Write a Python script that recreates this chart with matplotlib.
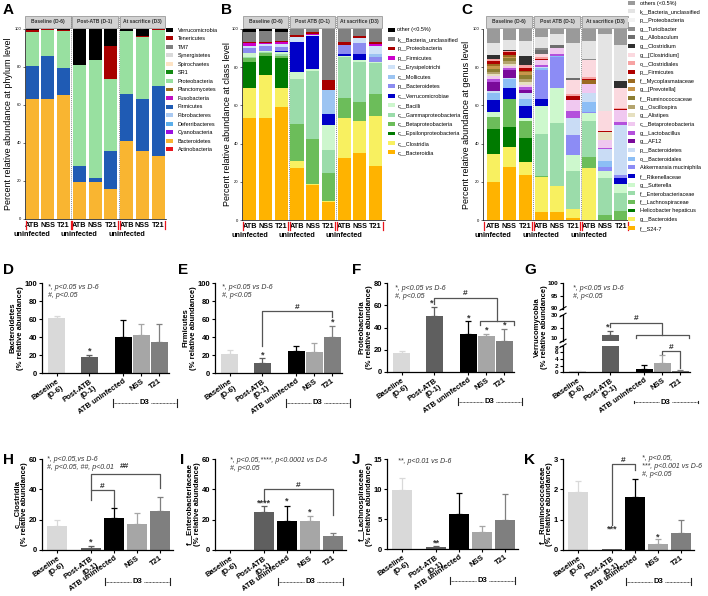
import numpy as np
import matplotlib.pyplot as plt
import matplotlib.transforms as mtransforms
from matplotlib.patches import Patch, Rectangle
from matplotlib.lines import Line2D

plt.rcParams['font.family'] = ['Liberation Sans', 'DejaVu Sans']

# ---------------- A: phylum level (legend order, top of stack first) ----------------
phylum_names = ["Verrucomicrobia", "Tenericutes", "TM7", "Synergistetes", "Spirochaetes", "SR1",
                "Proteobacteria", "Planctomycetes", "Fusobacteria", "Firmicutes", "Fibrobacteres",
                "Deferribacteres", "Cyanobacteria", "Bacteroidetes", "Actinobacteria"]
phylum_base_atb = [0.5, 0.8, 0, 0, 0, 0, 18.1, 0, 0, 17.3, 0, 0, 0, 63.0, 0.2]
phylum_base_nss = [0.2, 0.5, 0, 0, 0, 0, 13.3, 0, 0, 22.6, 0, 0, 0, 63.4, 0]
phylum_base_t21 = [0.7, 0.5, 0, 0, 0, 0, 19.4, 0, 0, 14.0, 0, 0, 0, 65.4, 0]
phylum_post_atb = [19.2, 0, 0, 0, 0, 0, 52.7, 0, 0, 8.8, 0, 0, 0, 19.3, 0]
phylum_post_nss = [16.2, 0, 0, 0, 0, 0, 62.4, 0, 0, 2.1, 0, 0, 0, 19.3, 0]
phylum_post_t21 = [8.8, 17.6, 0, 0, 0, 0, 37.6, 0, 0, 20.4, 0, 0, 0, 15.6, 0]
phylum_sac_atb = [1.3, 0, 0, 0, 0, 0, 33.0, 0, 0, 24.4, 0, 0, 0, 41.3, 0]
phylum_sac_nss = [3.8, 0.4, 0, 0, 0, 0, 32.7, 0, 0, 27.1, 0, 0, 0, 36.0, 0]
phylum_sac_t21 = [0, 0.7, 0, 0, 0, 0, 29.2, 0, 0, 37.2, 0, 0, 0, 32.9, 0]

# ---------------- B: class level ----------------
class_names = ["other (<0.5%)", "k__Bacteria_unclassified", "p__Proteobacteria", "p__Firmicutes",
               "c__Erysipelotrichi", "c__Mollicutes", "p__Bacteroidetes", "c__Verrucomicrobiae",
               "c__Bacilli", "c__Gammaproteobacteria", "c__Betaproteobacteria",
               "c__Epsilonproteobacteria", "c__Clostridia", "c__Bacteroidia"]
class_base_atb = [1.4, 5.3, 0.3, 1.7, 1.0, 0, 3.0, 0, 1.7, 0.8, 1.8, 13.6, 15.7, 53.6]
class_base_nss = [1.0, 5.8, 0.3, 1.0, 0.7, 0, 2.8, 0, 0.7, 0.5, 1.2, 10.1, 22.7, 53.2]
class_base_t21 = [1.7, 4.7, 0.3, 1.4, 1.2, 0, 2.1, 0.5, 1.4, 0.6, 1.5, 15.3, 10.0, 59.3]
class_post_atb = [0, 3.3, 0.7, 0.3, 2.4, 0.3, 0, 15.7, 3.5, 23.7, 19.2, 0, 3.5, 27.4]
class_post_nss = [0, 1.7, 1.0, 0.3, 0.9, 0, 0, 16.9, 1.4, 35.3, 23.7, 0, 0.3, 18.5]
class_post_t21 = [0, 26.7, 5.2, 0, 0, 12.7, 0, 5.6, 13.1, 12.2, 14.8, 0, 0.3, 9.4]
class_sac_atb = [0, 7.0, 1.4, 0, 0, 0, 4.5, 1.0, 0.5, 21.5, 10.5, 0, 21.3, 32.3]
class_sac_nss = [0, 3.5, 1.0, 0, 3.0, 0, 5.8, 3.0, 1.2, 20.6, 10.1, 0, 16.9, 34.9]
class_sac_t21 = [0, 6.6, 1.4, 0.7, 4.5, 1.3, 2.6, 0, 0.9, 16.2, 11.2, 0, 26.2, 28.4]

# ---------------- C: genus level ----------------
genus_names = ["others (<0.5%)", "k__Bacteria_unclassified", "p__Proteobacteria", "g__Turicibacter",
               "g__Allobaculum", "g__Clostridium", "g__[Clostridium]", "o__Clostridiales",
               "p__Firmicutes", "f__Mycoplasmataceae", "g__[Prevotella]", "f__Ruminococcaceae",
               "g__Oscillospira", "g__Alistipes", "c__Betaproteobacteria", "g__Lactobacillus",
               "g__AF12", "p__Bacteroidetes", "o__Bacteroidales", "Akkermansia muciniphila",
               "f__Rikenellaceae", "g__Sutterella", "f__Enterobacteriaceae", "f__Lachnospiraceae",
               "Helicobacter hepaticus", "g__Bacteroides", "f__S24-7"]
genus_base_atb = [7.2, 6.6, 0, 0, 0, 1.7, 0, 1.2, 1.7, 0.9, 1.7, 1.4, 1.2, 1.2, 1.4, 1.7, 4.3,
                  1.4, 3.8, 0, 6.2, 2.3, 0, 6.5, 13.2, 14.3, 20.1]
genus_base_nss = [5.8, 5.2, 0, 0, 0, 0.5, 0, 0.9, 1.2, 0.9, 0.9, 1.7, 1.4, 1.2, 0.9, 0.9, 4.0,
                  0.7, 4.9, 0, 5.6, 0, 0, 14.5, 10.5, 10.5, 27.9]
genus_base_t21 = [6.6, 7.9, 0, 0, 0, 4.7, 0, 1.4, 1.7, 0.5, 1.4, 2.1, 1.7, 1.7, 0.9, 1.7, 1.7,
                  3.0, 3.5, 0, 6.6, 1.4, 0, 8.7, 12.9, 6.6, 23.6]
genus_post_atb = [4.0, 6.0, 0, 1.0, 2.0, 0, 1.5, 1.0, 0.5, 0, 0, 0, 0, 0, 3.0, 0.7, 0,
                  0.5, 1.2, 15.2, 3.5, 15.0, 21.6, 0.5, 0, 18.3, 4.4]
genus_post_nss = [2.8, 5.6, 0, 0, 1.4, 0, 0, 0, 0, 0, 0, 0, 0, 0, 3.3, 0.9, 0,
                  0, 0.5, 16.6, 0, 18.3, 32.6, 0, 0, 13.6, 4.4]
genus_post_t21 = [8.0, 18.1, 0, 0, 1.4, 0, 7.0, 1.0, 2.1, 0, 0, 0, 0, 0, 5.8, 3.8, 0,
                  9.1, 0, 10.1, 0, 8.7, 19.5, 0.3, 0, 4.5, 1.2]
genus_sac_atb = [6.6, 9.6, 0, 0.5, 0, 0, 9.1, 0.9, 0.5, 2.3, 0, 0, 0, 0, 4.7, 0, 0,
                 4.4, 5.2, 0.9, 0, 4.0, 18.7, 6.1, 0, 27.0, 0]
genus_sac_nss = [2.8, 40.5, 0, 0, 0, 0, 10.5, 0, 0.7, 0, 0, 0, 0, 4.0, 4.4, 0.5, 0,
                 6.1, 3.0, 2.3, 0, 3.8, 19.2, 2.6, 0, 0, 0]
genus_sac_t21 = [8.2, 19.2, 0, 0, 0, 3.5, 10.5, 0.3, 0.9, 0, 0, 0, 0, 0, 6.3, 1.4, 0,
                 26.2, 0, 1.4, 3.5, 4.7, 9.2, 4.7, 0, 0, 0]

# ---------------- D-K: mean and SEM per group ----------------
groups = ["Baseline\n(D-6)", "Post-ATB\n(D-1)", "ATB uninfected", "NSS", "T21"]
bacteroidetes_mean = [61, 17.6, 40.4, 42.3, 35]
bacteroidetes_sem = [2.5, 1.9, 18.4, 12.7, 19.4]
firmicutes_mean = [21, 11, 24, 23, 40.4]
firmicutes_sem = [4.5, 5.5, 6.5, 10, 12.2]
proteobacteria_mean = [17, 50.6, 34.4, 32.6, 28.1]
proteobacteria_sem = [1.6, 7.8, 11.1, 1.5, 10.8]
verruco_mean = [0.3, 14.5, 1.1, 2.7, 0.35]
verruco_sem = [0.2, 3.0, 1.1, 2.5, 0.25]
clostridia_mean = [15.9, 1.5, 21.4, 17.2, 26]
clostridia_sem = [4.0, 1.1, 6.2, 7.5, 8.9]
entero_mean = [0, 24.9, 18.8, 18.8, 9.3]
entero_sem = [0, 3.8, 10.3, 3.3, 1.7]
lachno_mean = [9.9, 0.33, 5.9, 2.8, 4.8]
lachno_sem = [1.9, 0.22, 3.5, 1.1, 4.4]
rumino_mean = [1.9, 0.02, 1.74, 0.2, 0.55]
rumino_sem = [0.39, 0, 0.61, 0.15, 0.44]

# colours
phylum_colors = ["#000000", "#a80000", "#808080", "#d9d9d9", "#fde3c4", "#138a13",
                 "#98e0a0", "#9c6a1c", "#c010c0", "#1f5bb4", "#a9c9f2",
                 "#5aaeea", "#9a10e0", "#f9b531", "#e8141c"]
class_colors = ["#000000", "#808080", "#a80000", "#cc00cc", "#cfe2f8", "#9cc4f2", "#8c8cf0",
                "#0000c8", "#cdf6cd", "#9bdcaa", "#6cbd5a", "#007a00", "#f8f060", "#ffb300"]
genus_colors = ["#9a9a9a", "#e4e4e4", "#f3f3f3", "#8e8e8e", "#6e6e6e", "#303030", "#fbd9df",
                "#f7a3a3", "#b00000", "#9b6a21", "#c8964b", "#8c7d32", "#b4a46e", "#e6e0c0",
                "#f0c8f0", "#b450dc", "#7a0a9a", "#c9dcf5", "#8cbef5", "#8c8cf5", "#0000c8",
                "#cdf8cd", "#9bdcaa", "#6cbd5a", "#007a00", "#f8f060", "#ffb300"]
bar_colors = ["#d9d9d9", "#5f5f5f", "#000000", "#a6a6a6", "#7f7f7f"]

W, H = 708, 596
fig = plt.figure(figsize=(W / 100, H / 100), dpi=100)


def add_ax(l, t, r, b):
    # axes from a pixel box (left, top, right, bottom)
    return fig.add_axes([l / W, 1 - b / H, (r - l) / W, (b - t) / H])


def ftext(x, y, s, **kw):
    fig.text(x / W, 1 - y / H, s, **kw)


def stacked_panel(box, names, colors, samples, xlim, headers, ylabel_x, ylabel):
    ax = add_ax(*box)
    vals = np.array(samples).T
    xs = np.arange(vals.shape[1])
    bottom = np.zeros(len(xs))
    for i in range(len(names) - 1, -1, -1):
        ax.bar(xs, vals[i], 0.83, bottom=bottom, color=colors[i], linewidth=0)
        bottom += vals[i]
    ax.set_xlim(*xlim)
    ax.set_ylim(0, 100)
    ax.set_yticks(range(0, 101, 20))
    ax.tick_params(axis='y', labelsize=3, length=1.5, width=0.4, pad=1)
    for sp in ('top', 'right'):
        ax.spines[sp].set_visible(False)
    ax.spines['left'].set_linewidth(0.5)
    ax.spines['bottom'].set_linewidth(0.5)
    tr = mtransforms.blended_transform_factory(ax.transData, ax.transAxes)
    for xb in (2.5, 5.5):
        ax.plot([xb, xb], [0, 1.068], transform=tr, color='#8c8c8c', lw=0.7,
                ls=(0, (1, 1)), clip_on=False)
    for g, head in enumerate(headers):
        ax.add_patch(Rectangle((g * 3 - 0.44, 1.006), 2.88, 0.062, transform=tr,
                               facecolor='#d2d2d2', edgecolor='#9a9a9a', lw=0.6, clip_on=False))
        ax.text(g * 3 + 1, 1.037, head, transform=tr, ha='center', va='center',
                fontsize=3.6, weight='bold', color='#333333')
    ax.set_xticks(xs)
    ax.set_xticklabels(["ATB", "NSS", "T21"] * 3, fontsize=5.2, weight='bold')
    ax.tick_params(axis='x', length=0, pad=2)
    for g in range(3):
        ax.text(g * 3, -0.065, "uninfected", transform=tr, ha='center', va='top',
                fontsize=5.2, weight='bold')
    for xb in (xlim[0] + 0.05, 2.44, 2.56, 5.44, 5.56, 8.45):
        ax.plot([xb, xb], [-0.012, -0.05], transform=tr, color='#e8141c', lw=0.9,
                clip_on=False)
    ftext(ylabel_x, (box[1] + box[3]) / 2, ylabel, rotation=90, ha='center',
          va='center', fontsize=6.5)
    return ax


def legend_at(names, colors, x, y, spacing, pad):
    handles = [Patch(facecolor=c, edgecolor='none') for c in colors]
    fig.legend(handles, names, loc='upper left', bbox_to_anchor=(x / W, 1 - y / H),
               frameon=False, fontsize=4, handlelength=1.2, handleheight=0.7,
               handletextpad=pad, labelspacing=spacing, borderpad=0, borderaxespad=0)


heads_a = ["Baseline (D-6)", "Post-ATB (D-1)", "At sacrifice (D3)"]
heads_bc = ["Baseline (D-6)", "Post ATB (D-1)", "At sacrifice (D3)"]

stacked_panel((25, 29, 166, 219), phylum_names, phylum_colors,
              [phylum_base_atb, phylum_base_nss, phylum_base_t21, phylum_post_atb, phylum_post_nss,
               phylum_post_t21, phylum_sac_atb, phylum_sac_nss, phylum_sac_t21],
              (-0.45, 8.5), heads_a, 9, "Percent relative abundance at phylum level")
legend_at(phylum_names, phylum_colors, 166, 27.5, 0.64, 0.9)

stacked_panel((242, 29, 385, 220), class_names, class_colors,
              [class_base_atb, class_base_nss, class_base_t21, class_post_atb, class_post_nss,
               class_post_t21, class_sac_atb, class_sac_nss, class_sac_t21],
              (-0.5, 8.6), heads_bc, 228, "Percent relative abundance at class level")
legend_at(class_names, class_colors, 388, 27.5, 0.8, 0.5)

stacked_panel((483, 29, 628, 220), genus_names, genus_colors,
              [genus_base_atb, genus_base_nss, genus_base_t21, genus_post_atb, genus_post_nss,
               genus_post_t21, genus_sac_atb, genus_sac_nss, genus_sac_t21],
              (-0.65, 8.45), heads_bc, 467, "Percent relative abundance at genus level")
legend_at(genus_names, genus_colors, 628, 0.5, 0.66, 0.9)

# ---------------- bar panels ----------------
pos2 = [0, 1, 2.05, 2.6, 3.15]
pos3 = [0, 1, 1.68, 2.35, 3.03]


def style_bar_ax(ax, xlim, pos, ylim, yticks, bottom_axis=True, tsize=5.5):
    ax.set_xlim(*xlim)
    ax.set_ylim(*ylim)
    ax.set_yticks(yticks)
    for sp in ('top', 'right'):
        ax.spines[sp].set_visible(False)
    ax.spines['left'].set_linewidth(0.9)
    ax.spines['bottom'].set_linewidth(0.9)
    ax.tick_params(axis='both', labelsize=tsize, length=2.5, width=0.8, pad=1)
    for lab in ax.get_yticklabels():
        lab.set_fontweight('bold')
    if bottom_axis:
        ax.set_xticks(pos)
        ax.set_xticklabels(groups, rotation=35, ha='right', rotation_mode='anchor',
                           fontsize=5.5, weight='bold')
    else:
        ax.spines['bottom'].set_visible(False)
        ax.set_xticks([])


def draw_bars(ax, pos, width, means, sems):
    for p, m, s, c in zip(pos, means, sems, bar_colors):
        ax.bar(p, m, width, color=c, zorder=2)
        if s > 0:
            ax.errorbar(p, m, yerr=[[0], [s]], fmt='none', ecolor=c, elinewidth=0.9,
                        capsize=2.2, capthick=0.9, zorder=1)


def d3_bracket(ax, x1, x2, yax):
    tr = mtransforms.blended_transform_factory(ax.transData, ax.transAxes)
    xm = (x1 + x2) / 2
    kw = dict(transform=tr, clip_on=False, color='#222222')
    ax.plot([x1, xm - 0.2], [yax, yax], lw=0.6, ls=(0, (1, 0.7)), **kw)
    ax.plot([xm + 0.2, x2], [yax, yax], lw=0.6, ls=(0, (1, 0.7)), **kw)
    ax.plot([x1, x1], [yax - 0.04, yax + 0.04], lw=0.8, **kw)
    ax.plot([x2, x2], [yax - 0.04, yax + 0.04], lw=0.8, **kw)
    ax.text(xm, yax, "D3", transform=tr, ha='center', va='center', fontsize=5.5,
            weight='bold')


def bar_panel(box, pos, width, means, sems, ylim, yticks, ylabel, xlim, d3):
    ax = add_ax(*box)
    draw_bars(ax, pos, width, means, sems)
    style_bar_ax(ax, xlim, pos, ylim, yticks)
    ax.set_ylabel(ylabel, fontsize=5.5, weight='bold', labelpad=0.5, linespacing=1.1)
    d3_bracket(ax, *d3)
    return ax


def bracket(ax, x1, x2, y, y1, y2, label=None, lx=None, ly=None):
    ax.plot([x1, x1, x2, x2], [y1, y, y, y2], color='#555555', lw=0.9, clip_on=False)
    if label:
        ax.text(lx if lx is not None else (x1 + x2) / 2, ly if ly is not None else y,
                label, ha='center', va='bottom', fontsize=6, weight='bold', color='#333333')


def star(ax, x, y, s):
    ax.text(x, y, s, ha='center', va='center', fontsize=6.5, weight='bold', color='#333333')


def note(x, y, s):
    ftext(x, y, s, ha='left', va='top', fontsize=5, style='italic', color='#333333',
          linespacing=1.15)


xl2 = (-0.45, 3.45)
xl3 = (-0.45, 3.42)

# D
axd = bar_panel((42, 283, 169, 373), pos2, 0.52, bacteroidetes_mean, bacteroidetes_sem,
                (0, 100), range(0, 101, 20), "Bacteroidetes\n(% relative abundance)", xl2,
                (1.72, 3.69, -0.333))
star(axd, 1, 24, "*")
note(48, 284, "*, p<0.05 vs D-6\n#, p<0.05")

# E
axe = bar_panel((215, 283, 342, 373), pos2, 0.52, firmicutes_mean, firmicutes_sem,
                (0, 100), range(0, 101, 20), "Firmicutes\n(% relative abundance)", xl2,
                (1.72, 3.69, -0.333))
star(axe, 1, 20, "*")
star(axe, 3.15, 57, "*")
bracket(axe, 1, 3.15, 69, 30, 62.5, "#")
note(222, 284, "*, p<0.05 vs D-6\n#, p<0.05")

# F
axf = bar_panel((387, 283, 514, 372), pos2, 0.52, proteobacteria_mean, proteobacteria_sem,
                (0, 80), range(0, 81, 20), "Proteobacteria\n(% relative abundance)", xl2,
                (1.72, 3.69, -0.333))
star(axf, 0.93, 62, "*")
star(axf, 2.05, 48.5, "*")
star(axf, 2.6, 38, "*")
star(axf, 3.15, 42, "*")
axf.plot([1, 1, 2.93, 2.93], [61.5, 66.5, 66.5, 46], color='#555555', lw=0.9)
bracket(axf, 2.4, 3.45, 46, 42.5, 42.5)
axf.text(1.95, 67, "#", ha='center', va='bottom', fontsize=6, weight='bold', color='#333333')
note(395, 285, "*, p<0.05 vs D-6\n#, p<0.05")

# G, broken y axis
g_boxes = [(563, 283, 690, 308.5), (563, 315, 690, 341), (563, 345.7, 690, 372.3)]
g_ylims = [(90, 100), (10, 30), (0, 8)]
g_ticks = [[90, 95, 100], [10, 20, 30], [0, 2, 4, 6, 8]]
g_axes = []
for i, (bx, yl, yt) in enumerate(zip(g_boxes, g_ylims, g_ticks)):
    axg = add_ax(*bx)
    draw_bars(axg, pos2, 0.52, verruco_mean, verruco_sem)
    style_bar_ax(axg, xl2, pos2, yl, yt, bottom_axis=(i == 2), tsize=4.6)
    g_axes.append(axg)
gt, gm, gb = g_axes
gm.get_yticklabels()[0].set_va('bottom')
gb.get_yticklabels()[-1].set_va('top')
for yb in (308.5, 315, 341, 345.7):
    fig.add_artist(Line2D([560 / W, 566 / W], [1 - (yb + 1.8) / H, 1 - (yb - 1.8) / H],
                          color='black', lw=0.8))
ftext(541, 327, "Verrucomycobia\n(% relative abundance)", rotation=90, ha='center',
      va='center', fontsize=5.5, weight='bold', linespacing=1.1)
d3_bracket(gb, 1.72, 3.69, -1.13)
star(gm, 0.93, 21, "*")
gm.plot([1, 1, 2.6, 2.6], [20.5, 24, 24, 14.6], color='#555555', lw=0.9)
bracket(gm, 1.78, 3.42, 14.6, 12, 12)
gm.text(1.8, 24.5, "#", ha='center', va='bottom', fontsize=6, weight='bold', color='#333333')
bracket(gb, 2.6, 3.15, 6.3, 5.5, 1.2, "#")
note(573, 285, "*, p<0.05 vs D-6\n#, p<0.05")

# H
axh = bar_panel((42, 459, 173, 550), pos3, 0.6, clostridia_mean, clostridia_sem,
                (0, 60), range(0, 61, 20), "c__Clostridia\n(% relative abundance)", xl3,
                (1.4, 3.33, -0.35))
star(axh, 1, 5.5, "*")
bracket(axh, 1, 1.68, 39.7, 33, 28.5, "#")
bracket(axh, 1, 3.03, 50.3, 39.7, 40.8, "##", lx=2.0, ly=52.5)
note(47, 456, "*, p<0.05,vs D-6\n#, p<0.05, ##, p<0.01")

# I
axi = bar_panel((215, 459, 346, 550), pos3, 0.6, entero_mean, entero_sem,
                (0, 60), range(0, 61, 20), "f__Enterobacteriaceae\n(% relative abundance)", xl3,
                (1.4, 3.33, -0.35))
star(axi, 1, 31, "****")
star(axi, 1.68, 32, "*")
star(axi, 2.35, 25, "*")
bracket(axi, 1, 3.03, 40.2, 32.5, 23, "#")
note(230, 457, "*, p<0.05,****, p<0.0001 vs D-6\n#, p<0.05")

# J
axj = bar_panel((387, 459, 518, 549), pos3, 0.6, lachno_mean, lachno_sem,
                (0, 15), range(0, 16, 5), "f__Lachnospiraceae\n(% relative abundance)", xl3,
                (1.4, 3.33, -0.35))
star(axj, 1, 1.0, "**")
note(398, 458, "**, p<0.01 vs D-6")

# K
axk = bar_panel((563, 459, 694, 550), pos3, 0.6, rumino_mean, rumino_sem,
                (0, 3), range(0, 4), "f__Ruminococcaceae\n(% relative abundance)", xl3,
                (1.4, 3.33, -0.35))
star(axk, 1, 0.68, "***")
star(axk, 2.35, 0.42, "*")
bracket(axk, 1, 1.68, 2.85, 0.83, 2.65, "#")
note(642, 455, "*, p<0.05,\n***, p<0.001 vs D-6\n#, p<0.05")

# panel letters
for (x, y, s) in [(3, 3, "A"), (221, 3, "B"), (461, 3, "C"),
                  (3, 263, "D"), (178, 263, "E"), (352, 263, "F"), (524, 263, "G"),
                  (3, 453, "H"), (180, 453, "I"), (352, 453, "J"), (524, 453, "K")]:
    ftext(x, y, s, ha='left', va='top', fontsize=11, weight='bold')

fig.savefig("out.png", dpi=100)
